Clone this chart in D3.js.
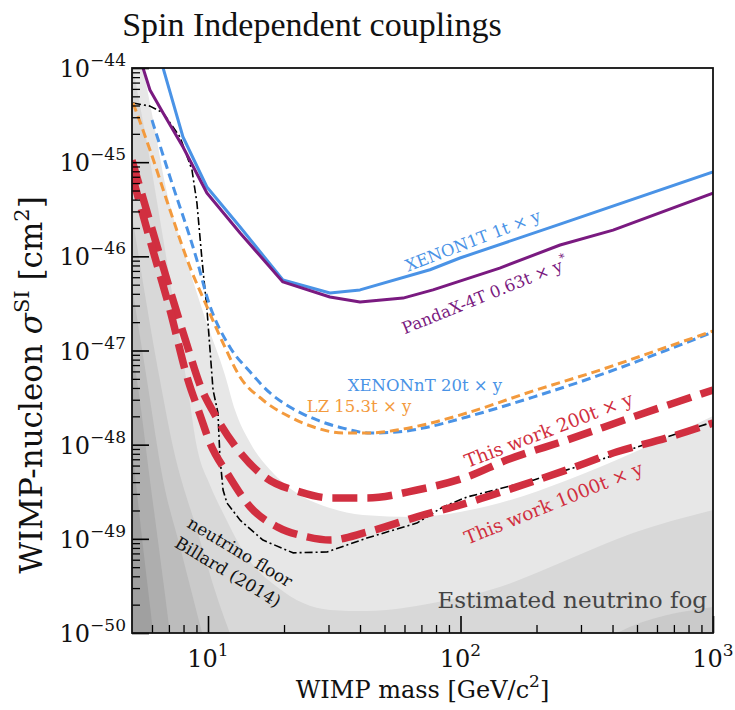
<!DOCTYPE html>
<html>
<head>
<meta charset="utf-8">
<script src="https://cdn.jsdelivr.net/npm/d3@7"></script>
<style>
  body { margin: 0; background: #fff; }
  text { font-family: "DejaVu Serif", serif; }
</style>
</head>
<body>
<div id="chart"></div>
<script>
// ---- limit curves (WIMP mass in GeV, cross-section in cm^2) ----
const xenon1tMass  = [6.64, 7.96, 9.9, 13.4, 19.8, 30.4, 40, 75.7, 99.5, 248, 1000];
const xenon1tSigma = [1.0e-44, 1.85e-45, 5.45e-46, 2.05e-46, 5.6e-47, 4.08e-47, 4.4e-47, 7.2e-47, 9.6e-47, 2.2e-46, 7.9e-46];

const pandaxMass  = [5.53, 5.89, 6.64, 7.96, 9.9, 13.4, 19.8, 30.4, 40, 59.2, 77.8, 143, 248, 402, 1000];
const pandaxSigma = [1.0e-44, 5.84e-45, 3.33e-45, 1.45e-45, 4.7e-46, 1.77e-46, 5.35e-47, 3.7e-47, 3.27e-47, 3.6e-47, 4.4e-47, 7.5e-47, 1.32e-46, 1.9e-46, 4.7e-46];

const xenonntMass  = [6.0, 7.07, 9.04, 10, 12.2, 14.7, 17.6, 21.1, 27.0, 34.2, 43.8, 56.0, 71.0, 106, 194, 357, 657, 1000];
const xenonntSigma = [2.8e-45, 6.97e-46, 9.1e-47, 3.43e-47, 1.09e-47, 5.9e-48, 3.54e-48, 2.51e-48, 1.83e-48, 1.5e-48, 1.33e-48, 1.36e-48, 1.5e-48, 1.97e-48, 3.2e-48, 5.5e-48, 1.01e-47, 1.57e-47];

const lzMass  = [5.05, 5.89, 7.07, 8.48, 9.91, 11.47, 13.39, 16.5, 21.1, 27.0, 34.2, 43.8, 56.0, 71.0, 106, 194, 357, 657, 1000];
const lzSigma = [4.25e-45, 1.35e-45, 3.1e-46, 7.7e-47, 2.9e-47, 1.2e-47, 5.24e-48, 2.98e-48, 1.97e-48, 1.5e-48, 1.33e-48, 1.33e-48, 1.43e-48, 1.62e-48, 2.17e-48, 3.72e-48, 6.2e-48, 1.09e-47, 1.61e-47];

const work200Mass  = [5.0, 5.89, 7.07, 8.26, 9.3, 10.66, 13.15, 16.8, 23.1, 30.4, 42.6, 67.2, 106, 153, 264, 482, 1000];
const work200Sigma = [1.05e-45, 2.32e-46, 4.4e-47, 1.14e-47, 4.3e-48, 2.07e-48, 8.8e-49, 4.54e-49, 3.15e-49, 2.72e-49, 2.72e-49, 3.3e-49, 4.54e-49, 6.9e-49, 1.12e-48, 1.97e-48, 3.81e-48];

const work1000Mass  = [5.0, 5.89, 7.07, 8.33, 9.3, 10.18, 11.9, 14.7, 18.8, 24.7, 30.4, 42.6, 67.2, 106, 167, 264, 417, 657, 1000];
const work1000Sigma = [7.3e-46, 1.49e-46, 2.69e-47, 4.86e-48, 2.07e-48, 1.04e-48, 5.0e-49, 2.18e-49, 1.34e-49, 1.05e-49, 9.7e-50, 1.18e-49, 1.71e-49, 2.4e-49, 3.56e-49, 5.4e-49, 8.4e-49, 1.18e-48, 1.7e-48];

const billardMass  = [5.05, 5.89, 6.64, 7.75, 8.64, 9.04, 9.47, 9.91, 10.47, 10.95, 11.15, 11.47, 11.89, 13.4, 16.5, 21.7, 29.6, 42.6, 67.2, 85.2, 106, 194, 357, 657, 1000];
const billardSigma = [4.25e-45, 3.94e-45, 3.33e-45, 1.85e-45, 8.26e-46, 3.68e-46, 9.1e-47, 2.69e-47, 3.81e-48, 2.17e-48, 7.4e-49, 3.3e-49, 2.4e-49, 1.58e-49, 9.7e-50, 7.1e-50, 7.25e-50, 1.02e-49, 1.47e-49, 2.18e-49, 2.78e-49, 4.2e-49, 6.9e-49, 1.21e-48, 1.74e-48];

// ---- neutrino fog contour boundaries, lightest first ----
const fog1Mass  = [5.0, 5.53, 6.17, 6.76, 8.11, 9.73, 11.67, 12.79, 14.7, 17.6, 23.1, 30.4, 41.1, 64.9, 99.5, 143, 264, 482, 1000];
const fog1Sigma = [4.1e-44, 1e-44, 2.2e-45, 5.86e-46, 1.03e-46, 2.21e-47, 5.5e-48, 2.33e-48, 1.04e-48, 5.4e-49, 2.92e-49, 2.13e-49, 1.79e-49, 1.71e-49, 1.93e-49, 2.4e-49, 4.2e-49, 8.2e-49, 2.02e-48];

const fog2Mass  = [5.0, 5.89, 6.76, 7.61, 8.33, 9.04, 10.18, 11.47, 14.27, 18.8, 23.8, 30.4, 42.6, 77.8, 143, 264, 482, 1000];
const fog2Sigma = [1.13e-44, 1.05e-45, 1.17e-46, 1.65e-47, 3.81e-48, 9.4e-49, 3.73e-49, 1.88e-49, 6.4e-50, 3.08e-50, 2.08e-50, 1.76e-50, 1.71e-50, 2.08e-50, 3.08e-50, 5.96e-50, 1.15e-49, 2.02e-49];

const fog3Mass  = [5.0, 6.45, 7.27, 9.04, 10.85, 12.2, 16.1, 57.6, 226, 417, 1000];
const fog3Sigma = [2.75e-46, 4.86e-48, 9.4e-49, 1.24e-49, 2.42e-50, 1.0e-50, 1.94e-51, 1.19e-51, 3.17e-51, 1.0e-50, 1.89e-50];

const fog4Mass  = [5.0, 5.73, 6.64, 7.75, 9.04, 9.47, 10.66];
const fog4Sigma = [4.84e-47, 4.86e-48, 4.2e-49, 8.2e-50, 1.63e-50, 1.0e-50, 1.94e-51];

const fog5Mass  = [5.0, 5.23, 5.89, 6.64, 7.07, 7.75];
const fog5Sigma = [1.01e-47, 4.86e-48, 4.2e-49, 3.66e-50, 1.0e-50, 1.94e-51];

const fog6Mass  = [5.0, 5.53, 6.06, 6.45];
const fog6Sigma = [9.4e-49, 8.2e-50, 1.0e-50, 1.94e-51];

const fogColors = ["#e7e7e7", "#d8d8d8", "#cacaca", "#bcbcbc", "#aeaeae", "#a0a0a0"];

const xMajor = [10, 100, 1000];
const xMajorExp = ["1", "2", "3"];
const yMajor = [1e-44, 1e-45, 1e-46, 1e-47, 1e-48, 1e-49, 1e-50];
const yMajorExp = ["\u221244", "\u221245", "\u221246", "\u221247", "\u221248", "\u221249", "\u221250"];

// ---- layout ----
const width = 735, height = 710;
const margin = { top: 68, right: 22, bottom: 77, left: 132 };

const svg = d3.select("#chart").append("svg")
    .attr("width", width)
    .attr("height", height);

const x = d3.scaleLog()
    .domain([5, 1000])
    .range([margin.left, width - margin.right]);

const y = d3.scaleLog()
    .domain([1e-50, 1e-44])
    .range([height - margin.bottom, margin.top]);

svg.append("clipPath").attr("id", "plotclip")
  .append("rect")
    .attr("x", margin.left)
    .attr("y", margin.top)
    .attr("width", width - margin.left - margin.right)
    .attr("height", height - margin.top - margin.bottom);

const plot = svg.append("g").attr("clip-path", "url(#plotclip)");

const pairs = (m, s) => m.map((v, i) => ({ m: v, s: s[i] }));

//fog bands, each filled from its boundary down past the bottom
const fogSets = [[fog1Mass, fog1Sigma], [fog2Mass, fog2Sigma], [fog3Mass, fog3Sigma],
                 [fog4Mass, fog4Sigma], [fog5Mass, fog5Sigma], [fog6Mass, fog6Sigma]];

const fogArea = d3.area()
    .x(d => x(d.m))
    .y0(height + 200)
    .y1(d => y(d.s))
    .curve(d3.curveMonotoneX);

fogSets.forEach((set, i) => {
    plot.append("path")
        .datum(pairs(set[0], set[1]))
        .attr("d", fogArea)
        .attr("fill", fogColors[i]);
});

//limit lines
const lineSmooth = d3.line().x(d => x(d.m)).y(d => y(d.s)).curve(d3.curveMonotoneX);
const lineStraight = d3.line().x(d => x(d.m)).y(d => y(d.s));

const series = [
    { m: billardMass, s: billardSigma, color: "#000", w: 1.6, dash: "8,3,2,3", gen: lineStraight },
    { m: xenon1tMass, s: xenon1tSigma, color: "#4a93e6", w: 3, dash: null, gen: lineStraight },
    { m: pandaxMass, s: pandaxSigma, color: "#7a1a80", w: 3, dash: null, gen: lineStraight },
    { m: xenonntMass, s: xenonntSigma, color: "#4a93e6", w: 3, dash: "9,5", gen: lineSmooth },
    { m: lzMass, s: lzSigma, color: "#f39a3d", w: 3, dash: "9,5", gen: lineSmooth },
    { m: work200Mass, s: work200Sigma, color: "#d12f40", w: 7.5, dash: "25,10", gen: lineSmooth },
    { m: work1000Mass, s: work1000Sigma, color: "#d12f40", w: 7.5, dash: "25,10", gen: lineSmooth }
];

series.forEach(sr => {
    plot.append("path")
        .datum(pairs(sr.m, sr.s))
        .attr("d", sr.gen)
        .attr("fill", "none")
        .attr("stroke", sr.color)
        .attr("stroke-width", sr.w)
        .attr("stroke-dasharray", sr.dash)
        .attr("stroke-linejoin", "round");
});

// ---- axes: inward ticks ----
const xMinor = [];
const yMinor = [];
[1, 10, 100].forEach(dec => { for (let k = 2; k <= 9; k++) { const v = k * dec; if (v > 5 && v < 1000) xMinor.push(v); } });
for (let e = -50; e < -44; e++) { for (let k = 2; k <= 9; k++) yMinor.push(k * Math.pow(10, e)); }

const bottomY = height - margin.bottom;

svg.append("g").attr("transform", `translate(0,${bottomY})`)
    .call(d3.axisBottom(x).tickValues(xMajor).tickSize(-17).tickFormat(""))
    .call(g => g.select(".domain").remove())
    .selectAll("line").attr("stroke-width", 1.6);
svg.append("g").attr("transform", `translate(0,${bottomY})`)
    .call(d3.axisBottom(x).tickValues(xMinor).tickSize(-8).tickFormat(""))
    .call(g => g.select(".domain").remove())
    .selectAll("line").attr("stroke-width", 1.3);

svg.append("g").attr("transform", `translate(${margin.left},0)`)
    .call(d3.axisLeft(y).tickValues(yMajor).tickSize(-17).tickFormat(""))
    .call(g => g.select(".domain").remove())
    .selectAll("line").attr("stroke-width", 1.6);
svg.append("g").attr("transform", `translate(${margin.left},0)`)
    .call(d3.axisLeft(y).tickValues(yMinor).tickSize(-8).tickFormat(""))
    .call(g => g.select(".domain").remove())
    .selectAll("line").attr("stroke-width", 1.3);

//frame
svg.append("rect")
    .attr("x", margin.left)
    .attr("y", margin.top)
    .attr("width", width - margin.left - margin.right)
    .attr("height", height - margin.top - margin.bottom)
    .attr("fill", "none")
    .attr("stroke", "#111")
    .attr("stroke-width", 1.8);

//tick labels with superscripts
xMajor.forEach((v, i) => {
    const t = svg.append("text")
        .attr("x", x(v))
        .attr("y", bottomY + 34)
        .attr("text-anchor", "middle")
        .attr("font-size", 24)
        .attr("fill", "#111");
    t.append("tspan").text("10");
    t.append("tspan").attr("font-size", 17).attr("dy", -11).text(xMajorExp[i]);
});

yMajor.forEach((v, i) => {
    const t = svg.append("text")
        .attr("x", margin.left - 6)
        .attr("y", y(v) + 9)
        .attr("text-anchor", "end")
        .attr("font-size", 24)
        .attr("fill", "#111");
    t.append("tspan").text("10");
    t.append("tspan").attr("font-size", 17).attr("dy", -11).text(yMajorExp[i]);
});

//axis titles
const xt = svg.append("text")
    .attr("x", (margin.left + width - margin.right) / 2)
    .attr("y", 698)
    .attr("text-anchor", "middle")
    .attr("font-size", 24)
    .attr("fill", "#111");
xt.append("tspan").text("WIMP mass [GeV/c");
xt.append("tspan").attr("font-size", 17).attr("dy", -11).text("2");
xt.append("tspan").attr("dy", 11).text("]");

const yt = svg.append("text")
    .attr("transform", `translate(42,385) rotate(-90)`)
    .attr("text-anchor", "middle")
    .attr("font-size", 31)
    .attr("fill", "#111");
yt.append("tspan").text("WIMP-nucleon ");
yt.append("tspan").attr("font-style", "italic").text("\u03c3");
yt.append("tspan").attr("font-size", 21).attr("dy", -13).text("SI");
yt.append("tspan").attr("dy", 13).text(" [cm");
yt.append("tspan").attr("font-size", 21).attr("dy", -13).text("2");
yt.append("tspan").attr("dy", 13).text("]");

//title
svg.append("text")
    .attr("x", 312)
    .attr("y", 36)
    .attr("text-anchor", "middle")
    .attr("font-size", 34)
    .style("font-family", "'Liberation Serif', serif")
    .attr("fill", "#111")
    .text("Spin Independent couplings");

// ---- in-plot annotations ----
function label(txt, px, py, angle, color, size, sup) {
    const t = svg.append("text")
        .attr("transform", `translate(${px},${py}) rotate(${angle})`)
        .attr("text-anchor", "middle")
        .attr("font-size", size)
        .attr("fill", color);
    t.append("tspan").text(txt);
    if (sup) t.append("tspan").attr("font-size", size * 0.7).attr("dy", -8).text(sup);
    return t;
}

label("XENON1T 1t \u00d7 y", 475, 246, -21, "#4a93e6", 16.5);
label("PandaX-4T 0.63t \u00d7 y", 487, 301, -22, "#7a1a80", 16.5, "*");
label("XENONnT 20t \u00d7 y", 425, 391, 0, "#4a93e6", 16.5);
label("LZ 15.3t \u00d7 y", 359, 412, 0, "#f39a3d", 16.5);
label("This work 200t \u00d7 y", 551, 436, -21, "#d12f40", 18.5);
label("This work 1000t \u00d7 y", 556, 509, -22, "#d12f40", 18.5);
label("neutrino floor", 237, 557, 31, "#111", 17);
label("Billard (2014)", 225, 577, 31, "#111", 17);

svg.append("text")
    .attr("x", 707)
    .attr("y", 608)
    .attr("text-anchor", "end")
    .attr("font-size", 23)
    .attr("fill", "#444")
    .text("Estimated neutrino fog");
</script>
</body>
</html>
